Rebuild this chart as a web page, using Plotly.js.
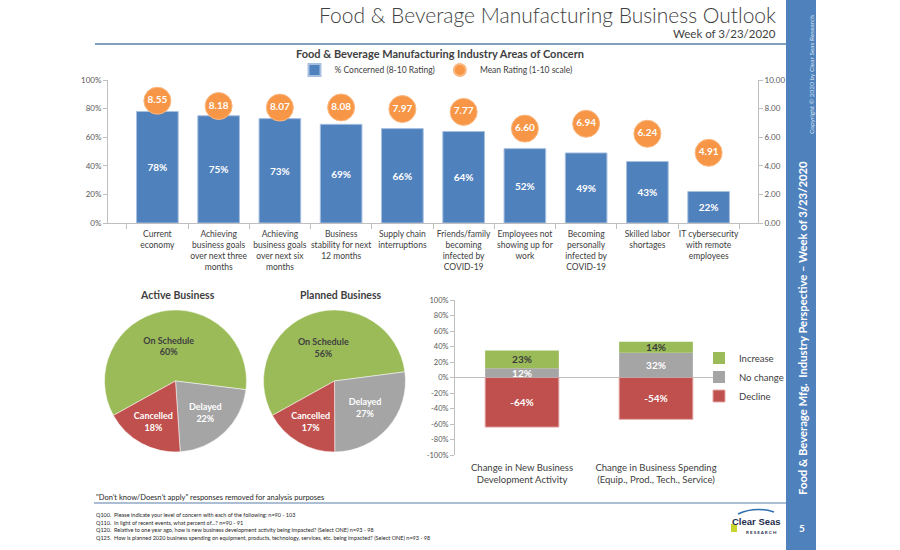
<!DOCTYPE html>
<html><head><meta charset="utf-8">
<script src="https://cdn.plot.ly/plotly-3.0.1.min.js"></script>
<style>body{margin:0;background:#fff}#chart{width:900px;height:550px}</style>
</head><body><div id="chart"></div>
<script>
// ---------- data ----------
const concernCategories = ["Current<br>economy", "Achieving<br>business goals<br>over next three<br>months", "Achieving<br>business goals<br>over next six<br>months", "Business<br>stability for next<br>12 months", "Supply chain<br>interruptions", "Friends/family<br>becoming<br>infected by<br>COVID-19", "Employees not<br>showing up for<br>work", "Becoming<br>personally<br>infected by<br>COVID-19", "Skilled labor<br>shortages", "IT cybersecurity<br>with remote<br>employees"];
const pctConcerned = [78, 75, 73, 69, 66, 64, 52, 49, 43, 22];
const meanRating = [8.55, 8.18, 8.07, 8.08, 7.97, 7.77, 6.60, 6.94, 6.24, 4.91];
const pctTicks = [0, 20, 40, 60, 80, 100];
const ratingTicks = [0, 2, 4, 6, 8, 10];

const pieLabels = ["On Schedule", "Delayed", "Cancelled"];
const activeBusiness = [60, 22, 18];
const plannedBusiness = [56, 27, 17];

const changeCategories = ["Change in New Business<br>Development Activity", "Change in Business Spending<br>(Equip., Prod., Tech., Service)"];
const declineVals = [-64, -54];
const noChangeVals = [12, 32];
const increaseVals = [23, 14];
const changeTicks = [-100, -80, -60, -40, -20, 0, 20, 40, 60, 80, 100];

const footnotes = [
  "Q100.  Please indicate your level of concern with each of the following: n=90 - 103",
  "Q110.  In light of recent events, what percent of...? n=90 - 91",
  "Q120.  Relative to one year ago, how is new business development activity being impacted? (Select ONE) n=93 - 98",
  "Q125.  How is planned 2020 business spending on equipment, products, technology, services, etc. being impacted? (Select ONE) n=93 - 98"
];

// ---------- style ----------
const FONT = "Lato, 'Open Sans', sans-serif";
const C = {blue:'#4F81BD', orange:'#F79646', green:'#9BBB59', gray:'#A5A5A5', red:'#C0504D', axis:'#BFBFBF', tick:'#595959', text:'#404040'};
const W = 900, H = 550;
const px = x => x / W, py = y => 1 - y / H;
const pct = v => v + '%';

const traces = [
  {type:'bar', name:'% Concerned (8-10 Rating)', x:concernCategories, y:pctConcerned, xaxis:'x', yaxis:'y',
   width:0.68, marker:{color:C.blue, line:{color:'#A7C0E0', width:1}},
   text:pctConcerned.map(pct), texttemplate:'%{text}', textposition:'inside', insidetextanchor:'middle', textangle:0,
   textfont:{color:'white', size:10, family:FONT, weight:'bold'}, hoverinfo:'skip', legend:'legend'},
  {type:'scatter', mode:'markers+text', name:'Mean Rating (1-10 scale)', x:concernCategories, y:meanRating, xaxis:'x', yaxis:'y2',
   marker:{color:C.orange, size:27, line:{color:'#FAB982', width:1}},
   texttemplate:'%{y:.2f}', textposition:'middle center',
   textfont:{color:'white', size:10, family:FONT, weight:'bold'}, hoverinfo:'skip', cliponaxis:false, legend:'legend'},
  {type:'pie', labels:pieLabels, values:activeBusiness, sort:false, direction:'clockwise', rotation:241,
   domain:{x:[px(104), px(247)], y:[py(452), py(310)]},
   marker:{colors:[C.green, C.gray, C.red], line:{color:'white', width:0.5}},
   text:activeBusiness.map(pct), texttemplate:'%{label}<br>%{text}', textposition:'inside', insidetextorientation:'horizontal',
   textfont:{color:[C.text, 'white', 'white'], size:9, family:FONT, weight:'bold'}, showlegend:false, hoverinfo:'skip'},
  {type:'pie', labels:pieLabels, values:plannedBusiness, sort:false, direction:'clockwise', rotation:241,
   domain:{x:[px(263), px(406)], y:[py(452), py(310)]},
   marker:{colors:[C.green, C.gray, C.red], line:{color:'white', width:0.5}},
   text:plannedBusiness.map(pct), texttemplate:'%{label}<br>%{text}', textposition:'inside', insidetextorientation:'horizontal',
   textfont:{color:[C.text, 'white', 'white'], size:9, family:FONT, weight:'bold'}, showlegend:false, hoverinfo:'skip'},
  {type:'bar', name:'Decline', x:changeCategories, y:declineVals, xaxis:'x3', yaxis:'y3', width:0.55,
   marker:{color:C.red, line:{color:'#E3A9A8', width:1}}, text:declineVals.map(pct), texttemplate:'%{text}',
   textposition:'inside', insidetextanchor:'middle', constraintext:'none',
   textfont:{color:'white', size:10, family:FONT, weight:'bold'}, hoverinfo:'skip', legend:'legend2'},
  {type:'bar', name:'No change', x:changeCategories, y:noChangeVals, xaxis:'x3', yaxis:'y3', width:0.55,
   marker:{color:C.gray}, text:noChangeVals.map(pct), texttemplate:'%{text}',
   textposition:'inside', insidetextanchor:'middle', constraintext:'none',
   textfont:{color:'white', size:10, family:FONT, weight:'bold'}, hoverinfo:'skip', legend:'legend2'},
  {type:'bar', name:'Increase', x:changeCategories, y:increaseVals, xaxis:'x3', yaxis:'y3', width:0.55,
   marker:{color:C.green}, text:increaseVals.map(pct), texttemplate:'%{text}',
   textposition:'inside', insidetextanchor:'middle', constraintext:'none',
   textfont:{color:'#3A3A3A', size:10, family:FONT, weight:'bold'}, hoverinfo:'skip', legend:'legend2'}
];

const axisCommon = {showgrid:false, zeroline:false, showline:true, linecolor:C.axis, linewidth:1,
  ticks:'outside', ticklen:4, tickcolor:C.axis, tickfont:{size:8, color:C.tick, family:FONT}, fixedrange:true};

const ann = (text, x, y, opts) => Object.assign({text, x:px(x), y:py(y), xref:'paper', yref:'paper', showarrow:false,
  xanchor:'center', yanchor:'middle', font:{family:FONT, size:10, color:C.text}}, opts || {});

const annotations = [
  ann('Food &amp; Beverage Manufacturing Business Outlook', 778, 15, {xanchor:'right', font:{family:FONT, size:21, color:'#3F3F3F', weight:300}}),
  ann('Week of 3/23/2020', 778, 34, {xanchor:'right', font:{family:FONT, size:11.5, color:'#3F3F3F'}}),
  ann('Food &amp; Beverage Manufacturing Industry Areas of Concern', 440, 54, {font:{family:FONT, size:11, color:'#3F3F3F', weight:'bold'}}),
  ann('Active Business', 177, 295, {font:{family:FONT, size:10.5, color:'#3F3F3F', weight:'bold'}}),
  ann('Planned Business', 341, 295, {font:{family:FONT, size:10.5, color:'#3F3F3F', weight:'bold'}}),
  ann('"Don\u2019t know/Doesn\u2019t apply" responses removed for analysis purposes', 94, 497, {xanchor:'left', font:{family:FONT, size:7.5, color:'#262626'}}),
  ann('Food &amp; Beverage Mfg.  Industry Perspective \u2013 Week of 3/23/2020', 802, 328, {textangle:-90, font:{family:FONT, size:11.3, color:'white', weight:'bold'}}),
  ann('Copyright \u00a9 2020 by Clear Seas Research', 811, 75, {textangle:-90, font:{family:FONT, size:6.5, color:'#DCE6F2'}}),
  ann('5', 802, 528, {font:{family:FONT, size:10, color:'white', weight:'bold'}}),
  ann('Clear Seas', 756, 521, {font:{family:"'Liberation Sans', sans-serif", size:9.5, color:'#1F2D4D', weight:'bold'}}),
  ann('R E S E A R C H', 761, 532, {font:{family:FONT, size:4.5, color:'#1F2D4D', weight:'bold'}})
];
footnotes.forEach((t, i) => annotations.push(ann(t, 94, 515 + i * 7.7, {xanchor:'left', font:{family:FONT, size:5.5, color:'#262626'}})));

const shapes = [
  {type:'rect', xref:'paper', yref:'paper', x0:px(786), x1:px(816), y0:0, y1:1, fillcolor:C.blue, line:{width:0}, layer:'below'},
  {type:'line', xref:'paper', yref:'paper', x0:px(95), x1:px(786), y0:py(44), y1:py(44), line:{color:'#5A7FA8', width:1.5}},
  {type:'line', xref:'paper', yref:'paper', x0:px(94), x1:px(786), y0:py(503), y1:py(503), line:{color:'#5A7FA8', width:1.2}},
  {type:'rect', xref:'paper', yref:'paper', x0:px(731), x1:px(737), y0:py(532), y1:py(524), fillcolor:'#C9D52E', line:{width:0}},
  {type:'path', xref:'paper', yref:'paper', path:`M ${px(738)} ${py(514)} Q ${px(755)} ${py(506)} ${px(774)} ${py(512)}`, line:{color:'#2E6FB0', width:1.5}}
];

const layout = {
  width:W, height:H, margin:{l:0, r:0, t:0, b:0}, paper_bgcolor:'white', plot_bgcolor:'rgba(0,0,0,0)',
  font:{family:FONT, color:C.text}, barmode:'relative', showlegend:true,
  xaxis:Object.assign({}, axisCommon, {domain:[px(108), px(758)], anchor:'y', type:'category', tickson:'boundaries', ticklen:5,
    tickangle:0, ticklabelstandoff:3, tickfont:{size:8.5, color:C.text, family:FONT}}),
  yaxis:Object.assign({}, axisCommon, {domain:[py(223), py(80)], anchor:'x', range:[0, 100], tickvals:pctTicks, ticktext:pctTicks.map(pct)}),
  yaxis2:Object.assign({}, axisCommon, {overlaying:'y', side:'right', anchor:'x', range:[0, 10], tickvals:ratingTicks,
    ticktext:ratingTicks.map(v => v.toFixed(2))}),
  xaxis3:Object.assign({}, axisCommon, {domain:[px(455), px(723)], anchor:'y3', type:'category', showline:false, ticks:'',
    tickangle:0, ticklabelstandoff:5, tickfont:{size:9.5, color:C.text, family:FONT}}),
  yaxis3:Object.assign({}, axisCommon, {domain:[py(455), py(300)], anchor:'x3', range:[-100, 100], tickvals:changeTicks,
    ticktext:changeTicks.map(pct), zeroline:true, zerolinecolor:C.axis, zerolinewidth:1, tickfont:{size:7.5, color:C.tick, family:FONT}}),
  legend:{orientation:'h', x:px(436), xanchor:'center', y:py(70), yanchor:'middle', font:{size:8.5, color:C.text, family:FONT},
    bgcolor:'rgba(0,0,0,0)', itemwidth:30, itemsizing:'constant'},
  legend2:{orientation:'v', x:px(699), xanchor:'left', y:py(377), yanchor:'middle', traceorder:'reversed', itemwidth:30,
    font:{size:9.5, color:C.text, family:FONT}, bgcolor:'rgba(0,0,0,0)'},
  annotations, shapes
};

Plotly.newPlot('chart', traces, layout, {displayModeBar:false, staticPlot:true});
</script>
</body></html>
